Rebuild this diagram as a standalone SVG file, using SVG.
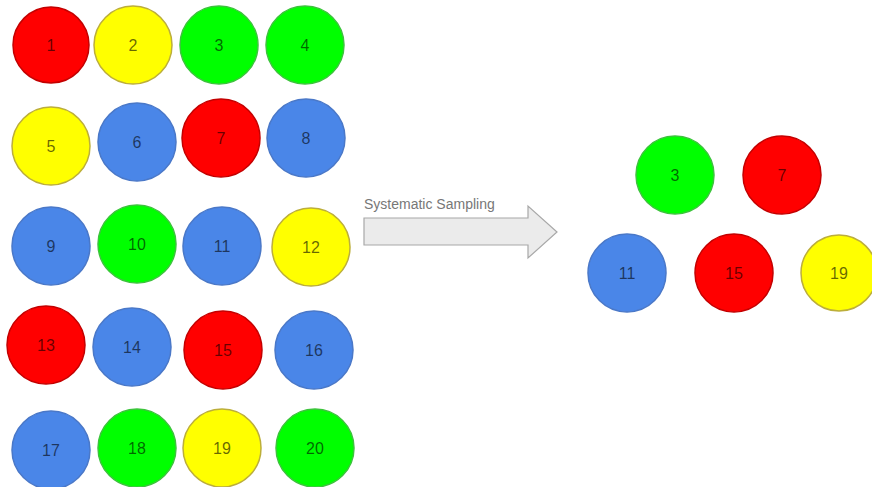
<svg xmlns="http://www.w3.org/2000/svg" width="872" height="487" viewBox="0 0 872 487">
<style>
.r{fill:#ff0000;stroke:#c40000;stroke-width:1.5}
.y{fill:#ffff00;stroke:#bcae3a;stroke-width:1.5}
.g{fill:#00ff00;stroke:#3cc43c;stroke-width:1.5}
.b{fill:#4a86e8;stroke:#4a78c8;stroke-width:1.5}
text.n{font-family:"Liberation Sans",Arial,sans-serif;font-size:16px;fill:#000;fill-opacity:0.6;text-anchor:middle;dominant-baseline:central}
.lbl{font-family:"Liberation Sans",Arial,sans-serif;font-size:14px;fill:#777}
</style>
<rect width="872" height="487" fill="#fff"/>
<g id="n1"><circle class="r" cx="51" cy="45" r="38"/><text class="n" x="51" y="45">1</text></g>
<g id="n2"><circle class="y" cx="133" cy="45" r="39"/><text class="n" x="133" y="45">2</text></g>
<g id="n3"><circle class="g" cx="219" cy="45" r="39"/><text class="n" x="219" y="45">3</text></g>
<g id="n4"><circle class="g" cx="305" cy="45" r="39"/><text class="n" x="305" y="45">4</text></g>
<g id="n5"><circle class="y" cx="51" cy="146" r="39"/><text class="n" x="51" y="146">5</text></g>
<g id="n6"><circle class="b" cx="137" cy="142" r="39"/><text class="n" x="137" y="142">6</text></g>
<g id="n7"><circle class="r" cx="221" cy="138" r="39"/><text class="n" x="221" y="138">7</text></g>
<g id="n8"><circle class="b" cx="306" cy="138" r="39"/><text class="n" x="306" y="138">8</text></g>
<g id="n9"><circle class="b" cx="51" cy="246" r="39"/><text class="n" x="51" y="246">9</text></g>
<g id="n10"><circle class="g" cx="137" cy="244" r="39"/><text class="n" x="137" y="244">10</text></g>
<g id="n11"><circle class="b" cx="222" cy="246" r="39"/><text class="n" x="222" y="246">11</text></g>
<g id="n12"><circle class="y" cx="311" cy="247" r="39"/><text class="n" x="311" y="247">12</text></g>
<g id="n13"><circle class="r" cx="46" cy="345" r="39"/><text class="n" x="46" y="345">13</text></g>
<g id="n14"><circle class="b" cx="132" cy="347" r="39"/><text class="n" x="132" y="347">14</text></g>
<g id="n15"><circle class="r" cx="223" cy="350" r="39"/><text class="n" x="223" y="350">15</text></g>
<g id="n16"><circle class="b" cx="314" cy="350" r="39"/><text class="n" x="314" y="350">16</text></g>
<g id="n17"><circle class="b" cx="51" cy="450" r="39"/><text class="n" x="51" y="450">17</text></g>
<g id="n18"><circle class="g" cx="137" cy="448" r="39"/><text class="n" x="137" y="448">18</text></g>
<g id="n19"><circle class="y" cx="222" cy="448" r="39"/><text class="n" x="222" y="448">19</text></g>
<g id="n20"><circle class="g" cx="315" cy="448" r="39"/><text class="n" x="315" y="448">20</text></g>
<g id="connectors">
<path d="M364,218 H528 V206 L557,232 L528,258 V245 H364 Z" fill="#ebebeb" stroke="#a8a8a8" stroke-width="1.2"/>
<text class="lbl" x="364" y="209">Systematic Sampling</text>
</g>
<g id="s3"><circle class="g" cx="675" cy="175" r="39"/><text class="n" x="675" y="175">3</text></g>
<g id="s7"><circle class="r" cx="782" cy="175" r="39"/><text class="n" x="782" y="175">7</text></g>
<g id="s11"><circle class="b" cx="627" cy="273" r="39"/><text class="n" x="627" y="273">11</text></g>
<g id="s15"><circle class="r" cx="734" cy="273" r="39"/><text class="n" x="734" y="273">15</text></g>
<g id="s19"><circle class="y" cx="839" cy="273" r="38"/><text class="n" x="839" y="273">19</text></g>
</svg>
